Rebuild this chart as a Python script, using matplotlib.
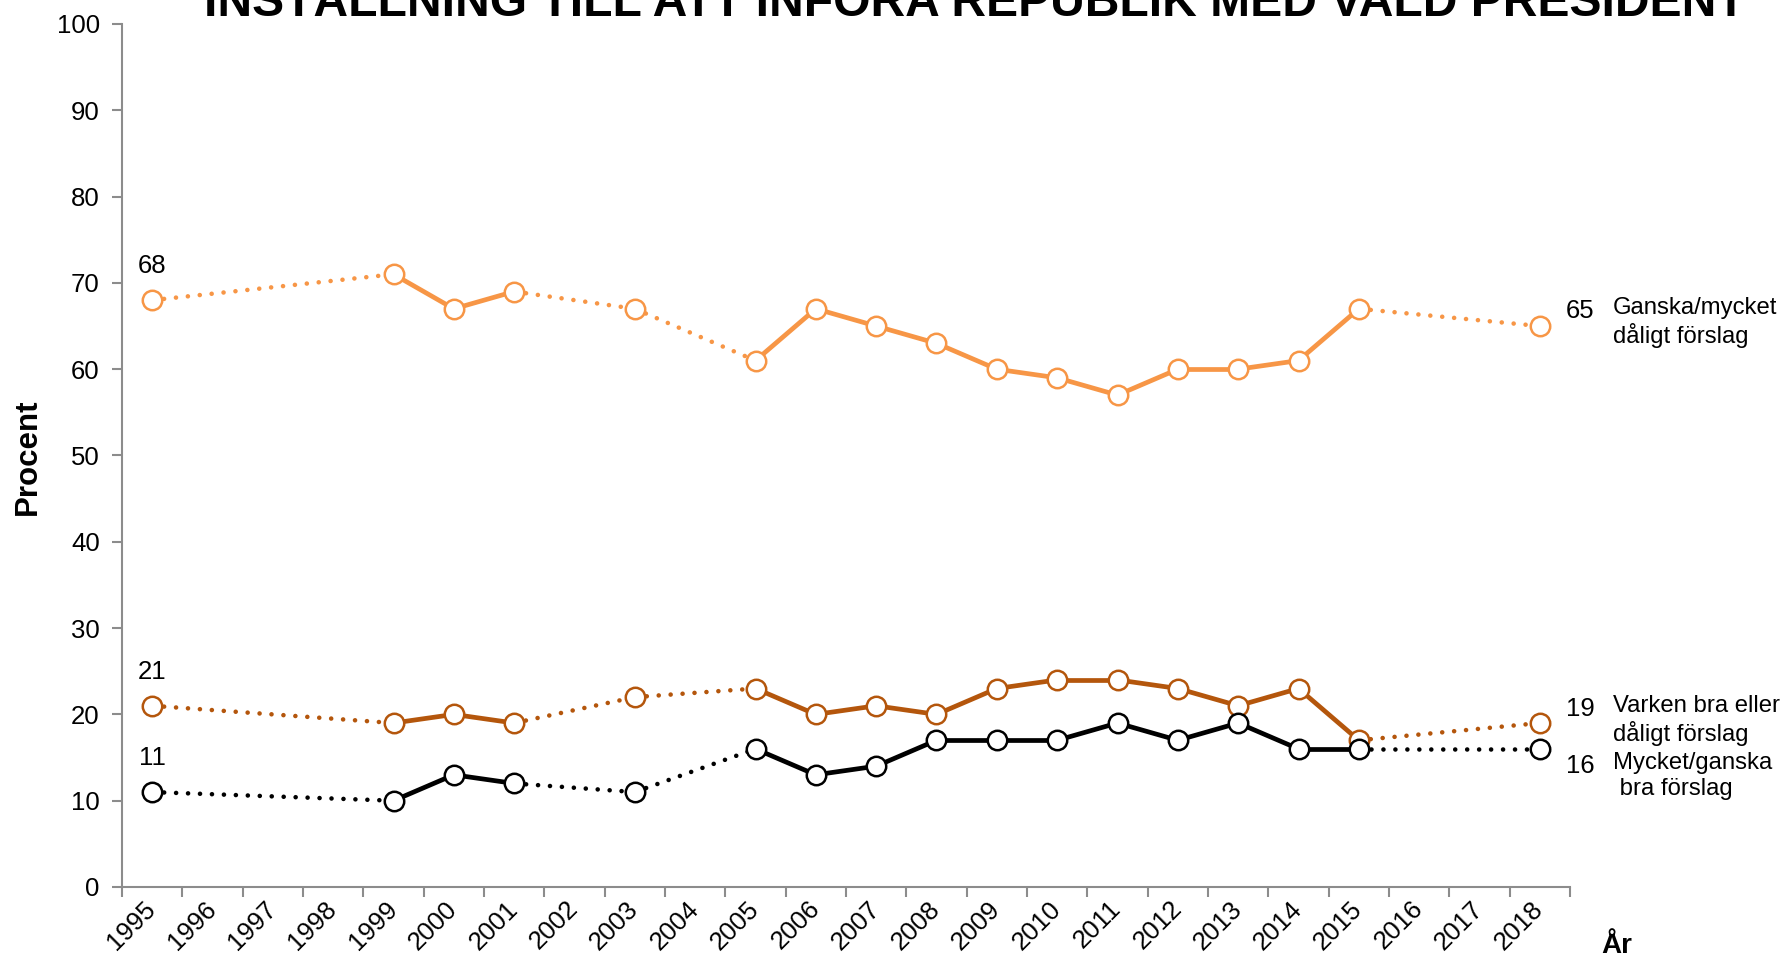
import matplotlib
matplotlib.use("Agg")
import matplotlib.pyplot as plt
from matplotlib import font_manager

# ---------------- data ----------------
categories = [str(y) for y in range(1995, 2019)]
survey_years = [1995, 1999, 2000, 2001, 2003, 2005, 2006, 2007, 2008, 2009,
                2010, 2011, 2012, 2013, 2014, 2015, 2018]
bad_proposal = [68, 71, 67, 69, 67, 61, 67, 65, 63, 60, 59, 57, 60, 60, 61, 67, 65]
neither = [21, 19, 20, 19, 22, 23, 20, 21, 20, 23, 24, 24, 23, 21, 23, 17, 19]
good_proposal = [11, 10, 13, 12, 11, 16, 13, 14, 17, 17, 17, 19, 17, 19, 16, 16, 16]
series_names = ["Ganska/mycket\ndåligt förslag",
                "Varken bra eller\ndåligt förslag",
                "Mycket/ganska\n bra förslag"]
title = "INSTÄLLNING TILL ATT INFÖRA REPUBLIK MED VALD PRESIDENT"
ylabel = "Procent"
xlabel = "År"

# ---------------- style ----------------
names = {f.name for f in font_manager.fontManager.ttflist}
base_font = "Liberation Sans" if "Liberation Sans" in names else "DejaVu Sans"
title_font = "Liberation Sans Narrow" if "Liberation Sans Narrow" in names else base_font
plt.rcParams["font.family"] = [base_font, "DejaVu Sans"]

W, H, DPI = 1787, 960, 100
fig = plt.figure(figsize=(W / DPI, H / DPI), dpi=DPI)
left_px, right_px, top_px, bottom_px = 122, 1570, 24, 887
ax = fig.add_axes([left_px / W, 1 - bottom_px / H,
                   (right_px - left_px) / W, (bottom_px - top_px) / H])

colors = ["#F79646", "#B4560C", "#000000"]
series = [bad_proposal, neither, good_proposal]
xpos = [categories.index(str(y)) + 0.5 for y in survey_years]

solid_lw = 3.4
dot_lw = 3.3
for vals, col in zip(series, colors):
    for i in range(len(survey_years) - 1):
        consecutive = survey_years[i + 1] - survey_years[i] == 1
        if consecutive:
            ax.plot(xpos[i:i + 2], vals[i:i + 2], color=col, lw=solid_lw,
                    solid_capstyle="round", zorder=2)
        else:
            ax.plot(xpos[i:i + 2], vals[i:i + 2], color=col, lw=dot_lw,
                    linestyle=(0, (0.01, 2.6)), dash_capstyle="round", zorder=2)
    ax.plot(xpos, vals, linestyle="none", marker="o", markersize=14,
            markerfacecolor="white", markeredgecolor=col, markeredgewidth=1.8,
            zorder=3)

fs = 18.5
name_fs = 17.2
# first-value labels
for vals in series:
    ax.annotate(str(vals[0]), xy=(xpos[0], vals[0]), xytext=(0, 34),
                textcoords="offset pixels", ha="center", va="center",
                fontsize=fs, color="black")

# right-hand labels
right_offsets = [15, 14, -17]
for vals, name, dy in zip(series, series_names, right_offsets):
    ax.annotate(str(vals[-1]), xy=(xpos[-1], vals[-1]), xytext=(26, dy),
                textcoords="offset pixels", ha="left", va="center",
                fontsize=fs, annotation_clip=False)
    ax.annotate(name, xy=(xpos[-1], vals[-1]), xytext=(73, dy + 14),
                textcoords="offset pixels", ha="left", va="top",
                fontsize=name_fs, linespacing=1.22, annotation_clip=False)

# axes
ax.set_xlim(0, len(categories))
ax.set_ylim(0, 100)
ax.set_yticks(range(0, 101, 10))
ax.set_xticks(range(0, len(categories) + 1))
ax.set_xticklabels([])
ax.set_xticks([i + 0.5 for i in range(len(categories))], minor=True)
ax.set_xticklabels(categories, minor=True, rotation=45, ha="right",
                   va="center", rotation_mode="anchor", fontsize=fs)
ax.tick_params(axis="x", which="minor", length=0, pad=13)
ax.tick_params(axis="x", which="major", length=7, width=1.5, color="#8c8c8c",
               direction="out")
ax.tick_params(axis="y", length=7, width=1.5, color="#8c8c8c", labelsize=fs,
               pad=9, direction="out")
for s in ["top", "right"]:
    ax.spines[s].set_visible(False)
for s in ["left", "bottom"]:
    ax.spines[s].set_color("#8c8c8c")
    ax.spines[s].set_linewidth(1.5)

fig.text(28 / W, 1 - 457 / H, ylabel, rotation=90, ha="center", va="center",
         fontsize=22.5, fontweight="bold")
fig.text(1617 / W, 1 - 946 / H, xlabel, ha="center", va="center",
         fontsize=20, fontweight="bold")

# title (cut off at the top)
t = fig.text((205 + 1744) / 2 / W, 1 - 16 / H, title, ha="center",
             va="baseline", fontsize=40, fontweight="bold",
             family=[title_font, "DejaVu Sans"])
fig.canvas.draw()
bb = t.get_window_extent()
t.set_fontsize(40 * 1539 / bb.width)

fig.savefig("out.png", dpi=DPI)
